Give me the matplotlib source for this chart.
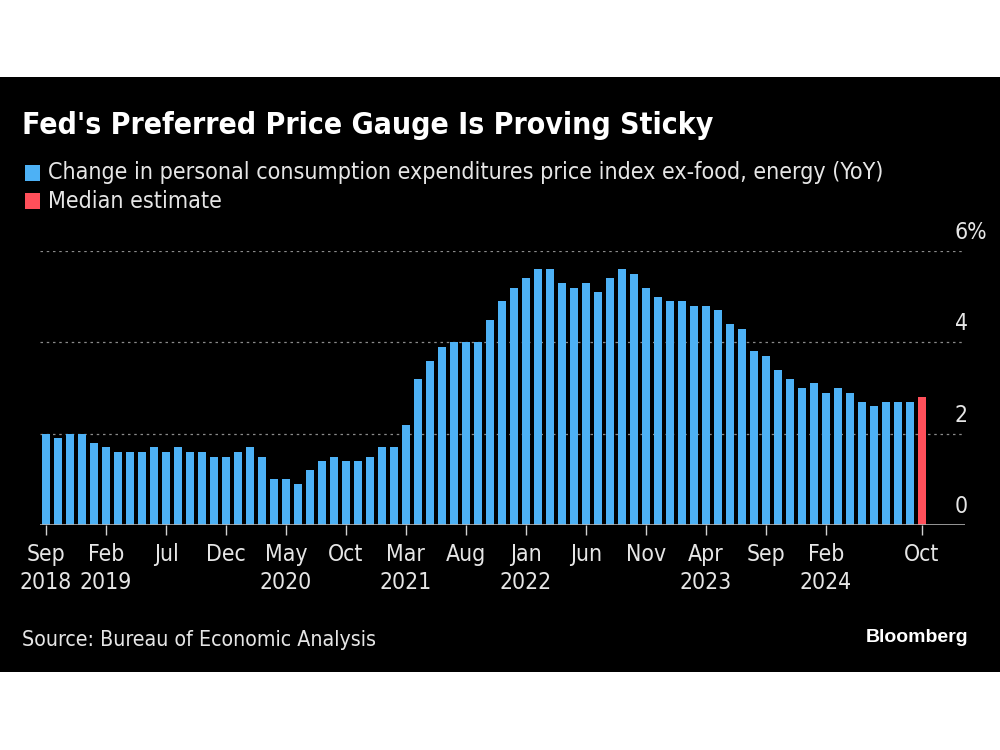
import os
import matplotlib
matplotlib.use("Agg")
import matplotlib.pyplot as plt
from matplotlib import font_manager
from matplotlib.font_manager import FontProperties
from matplotlib.patches import Rectangle

# ---------- data ----------
# core PCE YoY %, Sep 2018 .. Sep 2024, then Oct 2024 median estimate
core_pce = [2.0, 1.9, 2.0, 2.0, 1.8, 1.7, 1.6, 1.6, 1.6, 1.7, 1.6, 1.7,
            1.6, 1.6, 1.5, 1.5, 1.6, 1.7, 1.5, 1.0, 1.0, 0.9, 1.2, 1.4,
            1.5, 1.4, 1.4, 1.5, 1.7, 1.7, 2.2, 3.2, 3.6, 3.9, 4.0, 4.0,
            4.0, 4.5, 4.9, 5.2, 5.4, 5.6, 5.6, 5.3, 5.2, 5.3, 5.1, 5.4,
            5.6, 5.5, 5.2, 5.0, 4.9, 4.9, 4.8, 4.8, 4.7, 4.4, 4.3, 3.8,
            3.7, 3.4, 3.2, 3.0, 3.1, 2.9, 3.0, 2.9, 2.7, 2.6, 2.7, 2.7,
            2.7]
median_estimate = 2.8

tick_idx = [0, 5, 10, 15, 20, 25, 30, 35, 40, 45, 50, 55, 60, 65, 73]
tick_labels = ["Sep\n2018", "Feb\n2019", "Jul", "Dec", "May\n2020", "Oct",
               "Mar\n2021", "Aug", "Jan\n2022", "Jun", "Nov", "Apr\n2023",
               "Sep", "Feb\n2024", "Oct"]
y_ticks = [0, 2, 4, 6]
y_labels = ["0", "2", "4", "6%"]

BLUE = "#4db1f5"
RED = "#ff4f5a"


def pick(files):
    for f in font_manager.fontManager.ttflist:
        if os.path.basename(f.fname) in files:
            return FontProperties(fname=f.fname)
    return None


narrow = pick(["LiberationSansNarrow-Regular.ttf", "DejaVuSansCondensed.ttf"]) \
    or FontProperties(family="DejaVu Sans")
narrow_bold = pick(["LiberationSansNarrow-Bold.ttf", "DejaVuSansCondensed-Bold.ttf"]) \
    or FontProperties(family="DejaVu Sans", weight="bold")


def fp(base, size):
    p = base.copy()
    p.set_size(size)
    return p


fig = plt.figure(figsize=(10, 7.5), dpi=100, facecolor="white")
# black card between the white bands
fig.patches.append(Rectangle((0, 78 / 750), 1, 595 / 750, transform=fig.transFigure,
                             facecolor="black", edgecolor="none", zorder=-1))

ax = fig.add_axes([0.040, 225 / 750, 0.925, 274 / 750])
ax.set_facecolor("black")

x = list(range(len(core_pce)))
ax.bar(x, core_pce, width=0.68, color=BLUE, zorder=2)
ax.bar([len(core_pce)], [median_estimate], width=0.68, color=RED, zorder=2)

ax.set_xlim(-0.5, 76.6)
ax.set_ylim(0, 6)

for v in y_ticks[1:]:
    ax.axhline(v, color="#8a8a8a", lw=0.9, ls=(0, (2, 3)), zorder=1)
ax.axhline(0, color="#b0b0b0", lw=1.2, zorder=3)

for s in ax.spines.values():
    s.set_visible(False)

ax.set_yticks([])
ax.set_xticks(tick_idx)
ax.set_xticklabels(tick_labels, fontproperties=fp(narrow, 16.5), color="#e6e6e6",
                   linespacing=1.25)
ax.tick_params(axis="x", length=7, width=1, color="#d0d0d0", pad=6)

for v, lab in zip(y_ticks, y_labels):
    ax.annotate(lab, xy=(0.989, v), xycoords=("axes fraction", "data"),
                xytext=(0, 5), textcoords="offset points", ha="left", va="bottom",
                color="#e6e6e6", fontproperties=fp(narrow, 16.5))

# title, legend, footer
fig.text(0.022, 1 - 125 / 750, "Fed's Preferred Price Gauge Is Proving Sticky",
         color="white", fontproperties=fp(narrow_bold, 21.6), va="center")

for row, (col, lab) in enumerate([(BLUE, "Change in personal consumption expenditures price index ex-food, energy (YoY)"),
                                  (RED, "Median estimate")]):
    yc = 173 + row * 28
    fig.patches.append(Rectangle((25 / 1000, 1 - (yc + 8) / 750), 15 / 1000, 16 / 750,
                                 transform=fig.transFigure, facecolor=col,
                                 edgecolor="none", zorder=2))
    fig.text(0.048, 1 - yc / 750, lab, color="#e6e6e6",
             fontproperties=fp(narrow, 16.7), va="center")

fig.text(0.022, 1 - 640 / 750, "Source: Bureau of Economic Analysis", color="#e6e6e6",
         fontproperties=fp(narrow, 15.3), va="center")
fig.text(0.968, 1 - 638 / 750, "Bloomberg", color="white", ha="right", va="center",
         family="Liberation Sans", weight="bold", fontsize=14)

fig.savefig("out.png", dpi=100, facecolor=fig.get_facecolor())
